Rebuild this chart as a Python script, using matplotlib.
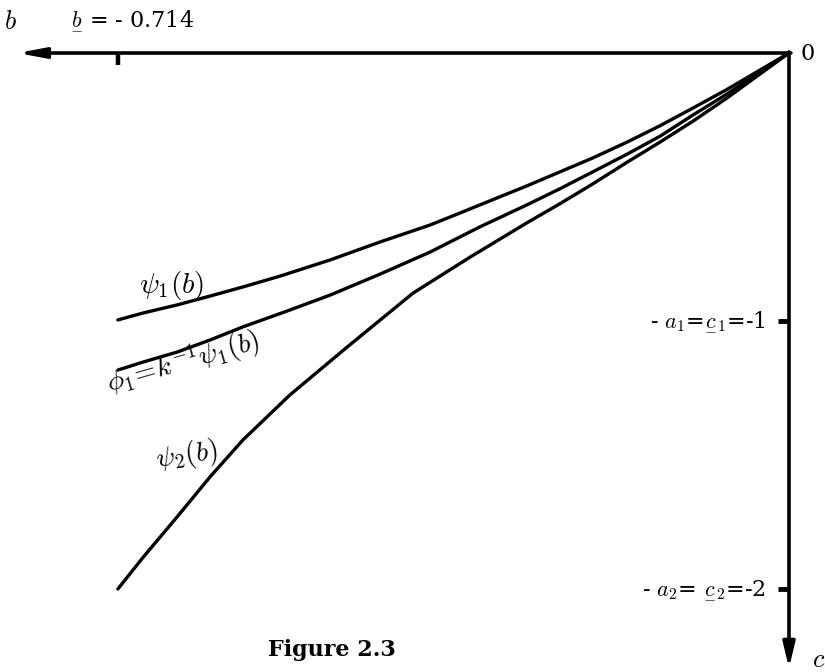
import matplotlib
matplotlib.use("Agg")
import matplotlib.pyplot as plt

plt.rcParams["font.family"] = "DejaVu Serif"
plt.rcParams["mathtext.fontset"] = "cm"

# curves, b on the horizontal axis, c on the vertical one
b_psi1 = [-0.714, -0.687, -0.651, -0.616, -0.581, -0.541, -0.488, -0.435, -0.382, -0.350,
          -0.329, -0.279, -0.244, -0.209, -0.172, -0.137, -0.102, -0.066, 0.0]
c_psi1 = [-0.996, -0.970, -0.940, -0.907, -0.873, -0.832, -0.772, -0.705, -0.642, -0.597,
          -0.567, -0.496, -0.444, -0.392, -0.332, -0.271, -0.205, -0.136, 0.0]

b_phi1 = [-0.714, -0.687, -0.651, -0.616, -0.581, -0.531, -0.488, -0.435, -0.382,
          -0.329, -0.279, -0.244, -0.209, -0.172, -0.137, -0.102, -0.066, 0.0]
c_phi1 = [-1.183, -1.153, -1.116, -1.071, -1.022, -0.959, -0.903, -0.825, -0.743,
          -0.649, -0.567, -0.507, -0.444, -0.377, -0.310, -0.231, -0.153, 0.0]

b_psi2 = [-0.714, -0.687, -0.651, -0.616, -0.581, -0.531, -0.470, -0.400, -0.339,
          -0.279, -0.244, -0.209, -0.172, -0.137, -0.102, -0.066, 0.0]
c_psi2 = [-2.000, -1.881, -1.731, -1.582, -1.444, -1.276, -1.097, -0.896, -0.761,
          -0.634, -0.563, -0.489, -0.407, -0.332, -0.254, -0.168, 0.0]

b_tick = -0.714
c_ticks = [-1, -2]
c_labels = [r"- $a_1$=$\underset{-}{c}_1$=-1", r"- $a_2$= $\underset{-}{c}_2$=-2"]

fig = plt.figure(figsize=(8.25, 6.72), dpi=100)
ax = fig.add_axes([0, 0, 1, 1])
ax.set_xlim(-0.8394, 0.0383)
ax.set_ylim(-2.3097, 0.1978)
ax.axis("off")

# axes with arrows
ax.annotate("", xy=(-0.821, 0), xytext=(0.002, 0),
            arrowprops=dict(arrowstyle="-|>,head_length=1.6,head_width=0.3",
                            lw=2.6, color="black", mutation_scale=10,
                            shrinkA=0, shrinkB=0))
ax.annotate("", xy=(0, -2.295), xytext=(0, 0.004),
            arrowprops=dict(arrowstyle="-|>,head_length=1.5,head_width=0.36",
                            lw=2.6, color="black", mutation_scale=10,
                            shrinkA=0, shrinkB=0))

# ticks
ax.plot([b_tick, b_tick], [0, -0.045], color="black", lw=3.2, solid_capstyle="butt")
for cv in c_ticks:
    ax.plot([-0.012, 0], [cv, cv], color="black", lw=3.5, solid_capstyle="butt")

# curves
for bb, cc in [(b_psi1, c_psi1), (b_phi1, c_phi1), (b_psi2, c_psi2)]:
    ax.plot(bb, cc, color="black", lw=2.4, solid_capstyle="round",
            solid_joinstyle="round")

# labels
ax.text(-0.828, 0.118, r"$b$", fontsize=19, ha="center", va="center")
ax.text(-0.765, 0.125, r"$\underset{-}{b}$ = - 0.714", fontsize=16,
        ha="left", va="center")
ax.text(0.012, -0.005, "0", fontsize=16, ha="left", va="center")
ax.text(0.024, -2.262, r"$c$", fontsize=19, ha="left", va="center")
for cv, lab in zip(c_ticks, c_labels):
    ax.text(-0.025, cv, lab, fontsize=16, ha="right", va="center")

ax.text(-0.692, -0.866, r"$\psi_1(b)$", fontsize=21, ha="left", va="center")
ax.text(-0.645, -1.153, r"$\phi_1\!=\!k^{-1}\psi_1(b)$", fontsize=20,
        ha="center", va="center", rotation=16)
ax.text(-0.641, -1.50, r"$\psi_2(b)$", fontsize=20, ha="center", va="center", rotation=8)

ax.text(-0.486, -2.228, "Figure 2.3", fontsize=16, fontweight="bold",
        ha="center", va="center")

fig.savefig("out.png", dpi=100)
